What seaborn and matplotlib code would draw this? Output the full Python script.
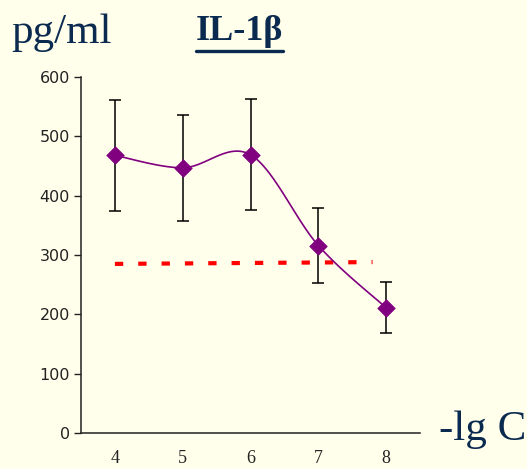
import numpy as np
import pandas as pd
import matplotlib
matplotlib.use("Agg")
import matplotlib.pyplot as plt
import seaborn as sns

# data
lg_c = ["4", "5", "6", "7", "8"]
il1b_mean = [468, 447, 469, 316, 211]
il1b_err = [94, 89, 94, 64, 43]
control_lgc = [4, 7.8]          # dashed control level, drawn from -lgC 4 to ~7.8
control_level = [285, 288]

BG = "#FFFFEB"
NAVY = "#0B2A4F"
PURPLE = "#800080"

sns.set_style("white")
plt.rcParams["font.family"] = ["Liberation Serif", "DejaVu Serif"]


def smooth(xs, ys, n=30):
    # Excel-like smoothed line (Catmull-Rom / bezier with 1/6 tension)
    xs = np.asarray(xs, float)
    ys = np.asarray(ys, float)
    px = np.concatenate([[xs[0]], xs, [xs[-1]]])
    py = np.concatenate([[ys[0]], ys, [ys[-1]]])
    out_x, out_y = [], []
    for i in range(1, len(px) - 2):
        p0 = np.array([px[i - 1], py[i - 1]])
        p1 = np.array([px[i], py[i]])
        p2 = np.array([px[i + 1], py[i + 1]])
        p3 = np.array([px[i + 2], py[i + 2]])
        c1 = p1 + (p2 - p0) / 6
        c2 = p2 - (p3 - p1) / 6
        t = np.linspace(0, 1, n)[:, None]
        b = (1 - t) ** 3 * p1 + 3 * (1 - t) ** 2 * t * c1 + 3 * (1 - t) * t ** 2 * c2 + t ** 3 * p2
        out_x.extend(b[:, 0])
        out_y.extend(b[:, 1])
    return np.array(out_x), np.array(out_y)


pos = np.arange(len(lg_c))
df = pd.DataFrame({"pos": pos, "mean": il1b_mean, "err": il1b_err})
sx, sy = smooth(df["pos"], df["mean"])
ctrl = pd.DataFrame({"pos": np.array(control_lgc) - 4, "level": control_level})

fig = plt.figure(figsize=(5.27, 4.69), dpi=100, facecolor=BG)
ax = fig.add_axes([0.1537, 0.0768, 0.6433, 0.759])
ax.set_facecolor(BG)

sns.lineplot(x=ctrl["pos"], y=ctrl["level"], ax=ax, color="#FF0000", lw=3,
             dashes=False, zorder=2).lines[-1].set_dashes((2.0, 3.6))
sns.lineplot(x=sx, y=sy, ax=ax, color=PURPLE, lw=1.2, sort=False, zorder=3)
ax.errorbar(df["pos"], df["mean"], yerr=df["err"], fmt="none", ecolor="black",
            elinewidth=1.1, capsize=4.5, capthick=1.1, zorder=4)
sns.scatterplot(x=df["pos"], y=df["mean"], ax=ax, marker="D", s=80, color=PURPLE,
                edgecolor=PURPLE, linewidth=0.5, zorder=5)

ax.set_xlim(-0.5, len(lg_c) - 0.5)
ax.set_ylim(0, 600)
ax.set_yticks(range(0, 601, 100))
ax.set_yticklabels([str(v) for v in range(0, 601, 100)], family="DejaVu Sans",
                   fontsize=11.5, color="#222222")
ax.set_xticks(pos)
ax.set_xticklabels(lg_c, fontsize=13, color="#222222")
ax.set_xticks(np.arange(-0.5, len(lg_c)), minor=True)
ax.tick_params(axis="x", which="major", length=0, pad=12)
ax.tick_params(axis="x", which="minor", length=5, width=1, color="#222222", direction="out")
ax.tick_params(axis="y", length=5, width=1, color="#222222", direction="out", left=True, pad=3)
ax.set_xlabel("")
ax.set_ylabel("")

for side in ["top", "right"]:
    ax.spines[side].set_visible(False)
for side in ["left", "bottom"]:
    ax.spines[side].set_color("#222222")
    ax.spines[side].set_linewidth(1.1)

fig.text(0.022, 0.908, "pg/ml", fontsize=31, color=NAVY)
t = fig.text(0.372, 0.915, "IL-1β", fontsize=26, color=NAVY, fontweight="bold")
fig.text(0.833, 0.062, "-lg C", fontsize=31, color=NAVY)

fig.canvas.draw()
bb = t.get_window_extent().transformed(fig.transFigure.inverted())
fig.add_artist(plt.Line2D([bb.x0, bb.x1], [bb.y0 - 0.006, bb.y0 - 0.006],
                          color=NAVY, lw=2.4, transform=fig.transFigure))

fig.savefig("out.png", dpi=100, facecolor=BG)
